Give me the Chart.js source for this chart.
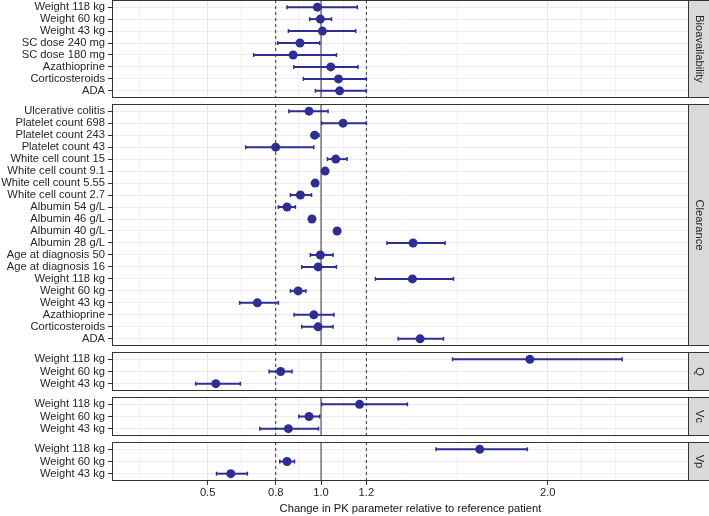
<!DOCTYPE html>
<html>
<head>
<meta charset="utf-8">
<script src="https://cdn.jsdelivr.net/npm/chart.js@4.4.1/dist/chart.umd.min.js"></script>
<style>
  body { margin: 0; background: #fff; }
  #wrap { position: relative; width: 709px; height: 516px; overflow: hidden; }
  #wrap canvas { position: absolute; left: 0; }
</style>
</head>
<body>
<div id="wrap"></div>
<script>
// ===== Data =====
const bioCats = ['Weight 118 kg', 'Weight 60 kg', 'Weight 43 kg', 'SC dose 240 mg', 'SC dose 180 mg',
                 'Azathioprine', 'Corticosteroids', 'ADA'];
const bioEst = [0.984, 0.997, 1.006, 0.907, 0.877, 1.043, 1.077, 1.082];
const bioLo  = [0.85, 0.95, 0.856, 0.809, 0.703, 0.88, 0.922, 0.975];
const bioHi  = [1.16, 1.046, 1.153, 0.994, 1.068, 1.163, 1.2, 1.2];

const clCats = ['Ulcerative colitis', 'Platelet count 698', 'Platelet count 243', 'Platelet count 43',
                'White cell count 15', 'White cell count 9.1', 'White cell count 5.55', 'White cell count 2.7',
                'Albumin 54 g/L', 'Albumin 46 g/L', 'Albumin 40 g/L', 'Albumin 28 g/L',
                'Age at diagnosis 50', 'Age at diagnosis 16', 'Weight 118 kg', 'Weight 60 kg', 'Weight 43 kg',
                'Azathioprine', 'Corticosteroids', 'ADA'];
const clEst = [0.947, 1.097, 0.972, 0.80, 1.065, 1.018, 0.974, 0.909, 0.85, 0.96, 1.071, 1.406,
               0.997, 0.987, 1.403, 0.899, 0.719, 0.968, 0.987, 1.437];
const clLo  = [0.858, 1.003, 0.958, 0.668, 1.028, 1.01, 0.966, 0.865, 0.812, 0.952, 1.06, 1.291,
               0.953, 0.915, 1.24, 0.865, 0.641, 0.881, 0.915, 1.34];
const clHi  = [1.031, 1.2, 0.991, 0.968, 1.115, 1.026, 0.982, 0.958, 0.887, 0.968, 1.083, 1.547,
               1.053, 1.068, 1.584, 0.933, 0.812, 1.057, 1.053, 1.54];

const wtCats = ['Weight 118 kg', 'Weight 60 kg', 'Weight 43 kg'];
const qEst  = [1.921, 0.822, 0.536];
const qLo   = [1.58, 0.771, 0.447];
const qHi   = [2.328, 0.872, 0.644];
const vcEst = [1.17, 0.947, 0.856];
const vcLo  = [1.003, 0.902, 0.73];
const vcHi  = [1.381, 0.994, 0.989];
const vpEst = [1.70, 0.85, 0.602];
const vpLo  = [1.507, 0.818, 0.539];
const vpHi  = [1.91, 0.883, 0.675];

// x axis: labelled breaks and all grid positions
const xBreaks = [0.5, 0.8, 1.0, 1.2, 2.0];
const xGrid = [0.2, 0.35, 0.5, 0.65, 0.8, 0.9, 1.0, 1.1, 1.2, 1.6, 2.0, 2.15, 2.3];
const refDashed = [0.8, 1.2];
const refSolid = [1.0];

// ===== Layout / style =====
const X_MIN = 0.078, X_MAX = 2.623;
const BLUE = '#2d2d96';
const TEXT = '#262626';
const FONT = { size: 11.2 };
Chart.defaults.font.family = "'Liberation Sans', Arial, sans-serif";

const panels = [
  { strip: 'Bioavailability', cats: bioCats, est: bioEst, lo: bioLo, hi: bioHi, top: 0, bottom: 98 },
  { strip: 'Clearance', cats: clCats, est: clEst, lo: clLo, hi: clHi, top: 104, bottom: 346 },
  { strip: 'Q', cats: wtCats, est: qEst, lo: qLo, hi: qHi, top: 352, bottom: 391 },
  { strip: 'Vc', cats: wtCats, est: vcEst, lo: vcLo, hi: vcHi, top: 397, bottom: 436 },
  { strip: 'Vp', cats: wtCats, est: vpEst, lo: vpLo, hi: vpHi, top: 442, bottom: 481 }
];

// panel border, strip and (bottom panel) axis title
const facetFrame = {
  id: 'facetFrame',
  afterDraw(chart, args, opts) {
    const a = chart.chartArea;
    const ctx = chart.ctx;
    ctx.save();
    ctx.strokeStyle = '#333';
    ctx.lineWidth = 1;
    ctx.fillStyle = '#d9d9d9';
    ctx.fillRect(a.right, a.top, chart.width - a.right, a.bottom - a.top);
    ctx.strokeRect(Math.round(a.left) + 0.5, Math.round(a.top) + 0.5,
                   Math.round(a.right - a.left) - 1, Math.round(a.bottom - a.top) - 1);
    ctx.strokeRect(Math.round(a.right) - 0.5, Math.round(a.top) + 0.5,
                   chart.width - Math.round(a.right) + 1, Math.round(a.bottom - a.top) - 1);
    ctx.fillStyle = TEXT;
    ctx.font = FONT.size + "px 'Liberation Sans', Arial, sans-serif";
    ctx.textAlign = 'center';
    ctx.textBaseline = 'middle';
    ctx.save();
    ctx.translate((a.right + chart.width) / 2 + 0.5, (a.top + a.bottom) / 2);
    ctx.rotate(Math.PI / 2);
    ctx.fillText(opts.strip, 0, 0);
    ctx.restore();
    if (opts.title) {
      ctx.fillStyle = '#111';
      ctx.fillText(opts.title, (a.left + chart.width) / 2, chart.height - 7);
    }
    ctx.restore();
  }
};

const wrap = document.getElementById('wrap');

function makePanel(p, isLast) {
  const canvas = document.createElement('canvas');
  const top = p.top - 2;
  canvas.width = 709;
  canvas.height = isLast ? 516 - top : p.bottom - p.top + 4;
  canvas.style.top = top + 'px';
  wrap.appendChild(canvas);

  const n = p.cats.length;
  const yMin = -0.6, yMax = n - 0.4;
  const datasets = [];

  datasets.push({
    data: p.est.map((v, i) => ({ x: v, y: i })),
    pointRadius: 4.5,
    pointBackgroundColor: BLUE,
    pointBorderWidth: 0,
    order: 0
  });
  p.cats.forEach((c, i) => {
    datasets.push({
      data: [{ x: p.lo[i], y: i }, { x: p.hi[i], y: i }],
      showLine: true,
      borderColor: BLUE,
      borderWidth: 2,
      pointStyle: 'line',
      rotation: 90,
      pointRadius: 2,
      pointBorderColor: BLUE,
      pointBorderWidth: 1.5,
      order: 1
    });
  });
  refDashed.forEach(v => datasets.push({
    data: [{ x: v, y: yMin }, { x: v, y: yMax }],
    showLine: true, borderColor: '#333', borderWidth: 1, borderDash: [3, 3],
    pointRadius: 0, order: 2
  }));
  refSolid.forEach(v => datasets.push({
    data: [{ x: v, y: yMin }, { x: v, y: yMax }],
    showLine: true, borderColor: '#555', borderWidth: 1.2,
    pointRadius: 0, order: 2
  }));

  new Chart(canvas.getContext('2d'), {
    type: 'scatter',
    data: { datasets },
    options: {
      responsive: false,
      animation: false,
      layout: {
        autoPadding: false,
        padding: { left: 0, right: 20, top: 2, bottom: isLast ? 0 : 2 }
      },
      plugins: {
        legend: { display: false },
        tooltip: { enabled: false },
        facetFrame: {
          strip: p.strip,
          title: isLast ? 'Change in PK parameter relative to reference patient' : null
        }
      },
      scales: {
        x: {
          type: 'linear',
          min: X_MIN,
          max: X_MAX,
          afterBuildTicks: s => { s.ticks = xGrid.map(v => ({ value: v })); },
          afterFit: s => {
            s.height = isLast ? 35 : 0;
            s.paddingLeft = 0;
            s.paddingRight = 0;
          },
          border: { display: false },
          grid: {
            color: ctx => xBreaks.includes(ctx.tick && ctx.tick.value) ? '#e6e6e6' : '#f1f1f1',
            lineWidth: 1,
            drawTicks: isLast,
            tickLength: 4,
            tickColor: ctx => xBreaks.includes(ctx.tick && ctx.tick.value) ? '#333' : 'rgba(0,0,0,0)'
          },
          ticks: {
            display: isLast,
            autoSkip: false,
            maxRotation: 0,
            padding: 1,
            color: TEXT,
            font: FONT,
            callback: v => xBreaks.includes(v) ? v.toFixed(1) : ''
          }
        },
        y: {
          type: 'linear',
          reverse: true,
          min: yMin,
          max: yMax,
          afterBuildTicks: s => { s.ticks = p.cats.map((c, i) => ({ value: i })); },
          afterFit: s => {
            s.width = 112;
            s.paddingTop = 0;
            s.paddingBottom = 0;
          },
          border: { display: false },
          grid: { color: '#ececec', lineWidth: 1, tickColor: '#333', tickLength: 4 },
          ticks: {
            autoSkip: false,
            padding: 3,
            color: TEXT,
            font: FONT,
            callback: (v, i) => p.cats[i]
          }
        }
      }
    },
    plugins: [facetFrame]
  });
}

panels.forEach((p, i) => makePanel(p, i === panels.length - 1));
</script>
</body>
</html>
